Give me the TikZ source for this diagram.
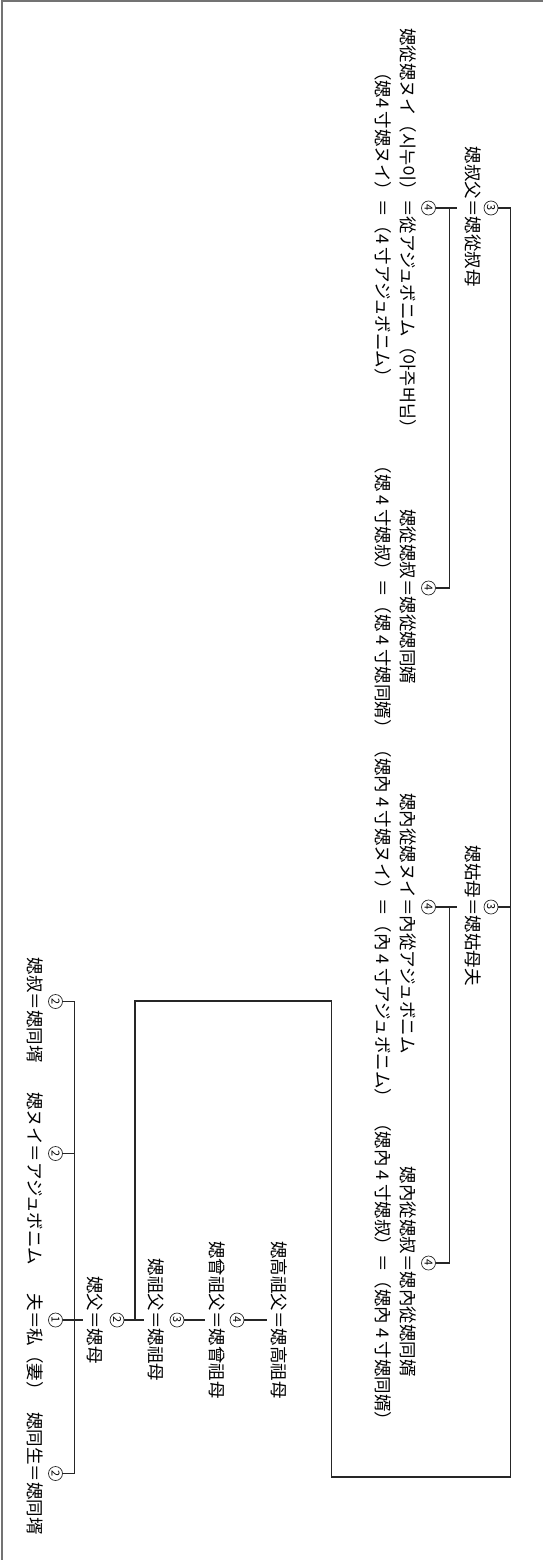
\documentclass[tikz,border=0pt]{standalone}
\usepackage{fontspec}
\setmainfont{Noto Sans CJK KR}
\usetikzlibrary{calc}
\tikzset{
  link/.style={draw=black!85, line width=1.2pt},
  frameline/.style={draw=black!55, line width=2pt},
  eqmark/.style={inner sep=0pt, outer xsep=0pt, outer ysep=3pt, text height=15pt, text depth=2.5pt,
    font=\fontsize{17.5}{20}\selectfont, text=black},
  chonmark/.style={circle, draw=black!85, line width=0.7pt, inner sep=0pt, minimum size=14pt,
    font=\fontsize{11}{12}\selectfont, text=black}
}
\newcommand{\kin}[5]{\node[eqmark] (#1) at ( #2 , #3 ) {＝};
  \node[eqmark, anchor=east] (#1l) at (#1.west) {#4};
  \node[eqmark, anchor=west] (#1r) at (#1.east) {#5};}
\newcommand{\chon}[4]{\node[chonmark] (#1) at ( #2 , #3 ) {#4};}

\begin{document}
\begin{tikzpicture}[x=1pt, y=1pt, rotate=-90, transform shape]
  \useasboundingbox (0,0) rectangle (1560,543);
  \draw[frameline] (1560,2) -- (1,2) -- (1,543);

  % straight line
  \kin{k7}{1320}{279}{媤高祖父}{媤高祖母}
  \kin{k8}{1320}{216.5}{媤曾祖父}{媤曾祖母}
  \chon{c8}{1320}{237}{4}
  \kin{k9}{1320}{156}{媤祖父}{媤祖母}
  \chon{c9}{1320}{177}{3}
  \kin{k10}{1320}{95}{媤父}{媤母}
  \chon{c10}{1320}{117}{2}
  \kin{k11}{1320}{34.5}{夫}{私（妻）}
  \chon{c11}{1320}{55.5}{1}

  % row of husband
  \kin{k12}{1001.5}{34.5}{媤叔}{媤同壻}
  \chon{c12}{1001.5}{55.5}{2}
  \kin{k13}{1153.5}{34.5}{媤ヌイ}{アジュボニム}
  \chon{c13}{1153.5}{55.5}{2}
  \kin{k14}{1473.5}{34.5}{媤同生}{媤同壻}
  \chon{c14}{1473.5}{55.5}{2}

  % row of father
  \kin{k1}{208}{473}{媤叔父}{媤從叔母}
  \chon{c1}{208}{491}{3}
  \kin{k4}{907}{473}{媤姑母}{媤姑母夫}
  \chon{c4}{907}{491}{3}

  % row of cousins
  \kin{k2}{208}{407.5}{媤從媤ヌイ（시누이）}{從アジュボニム（아주버님）}
  \kin{k2b}{208}{383}{（媤4 寸媤ヌイ）}{（4 寸アジュボニム）}
  \chon{c2}{208}{428.5}{4}
  \kin{k3}{588}{407.5}{媤從媤叔}{媤從媤同婿}
  \kin{k3b}{588}{383}{（媤 4 寸媤叔）}{（媤 4 寸媤同婿）}
  \chon{c3}{588}{428.5}{4}
  \kin{k5}{907}{407.5}{媤內從媤ヌイ}{內從アジュボニム}
  \kin{k5b}{907}{383}{（媤內 4 寸媤ヌイ）}{（內 4 寸アジュボニム）}
  \chon{c5}{907}{428.5}{4}
  \kin{k6}{1263}{407.5}{媤內從媤叔}{媤內從媤同婿}
  \kin{k6b}{1263}{383}{（媤內 4 寸媤叔）}{（媤內 4 寸媤同婿）}
  \chon{c6}{1263}{428.5}{4}

  % lines
  \coordinate (trunk) at (1477,510.5);
  \coordinate (boxtop) at (1001,331.5);
  \coordinate (fjoin) at (1320,135);
  \draw[link] (c1.north) |- (trunk) |- (boxtop) |- (fjoin);
  \draw[link] (c4.north) -- (c4.north |- trunk);
  \draw[link] (c8.north) -- (k7.south);
  \draw[link] (c9.north) -- (k8.south);
  \draw[link] (c10.north) -- (k9.south);
  \draw[link] (c11.north) -- (k10.south);
  \draw[link] (c14.north) -- ++(0,12) -| (c12.north);
  \draw[link] (c13.north) -- ++(0,12);
  \draw[link] (c2.north) -- ([yshift=-4pt]k1.south);
  \draw[link] (c3.north) -- ++(0,14) -| (c2.north);
  \draw[link] (c5.north) -- ([yshift=-4pt]k4.south);
  \draw[link] (c6.north) -- ++(0,14) -| (c5.north);
\end{tikzpicture}
\end{document}
